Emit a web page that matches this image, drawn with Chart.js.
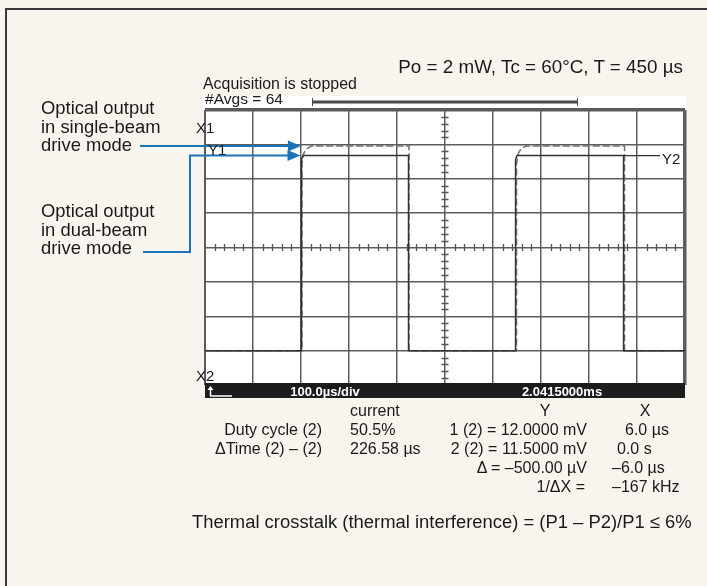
<!DOCTYPE html>
<html><head><meta charset="utf-8">
<script src="https://cdn.jsdelivr.net/npm/chart.js@4.4.0/dist/chart.umd.min.js"></script>
<style>
html,body{margin:0;padding:0;background:#f8f5ee;overflow:hidden;}
#wrap{position:relative;width:707px;height:586px;overflow:hidden;background:#f8f5ee;}
#frame{position:absolute;left:5px;top:8px;width:720px;height:600px;border-top:2px solid #3a3a3a;border-left:2px solid #3a3a3a;z-index:1;pointer-events:none;}
#edge{position:absolute;left:697px;top:20px;width:10px;height:566px;background:#f8f5ee;z-index:10;}
canvas{position:absolute;left:0;top:0;}
.t{position:absolute;white-space:nowrap;line-height:1;font-family:"Liberation Sans",Arial,sans-serif;color:#1a1a1a;z-index:2;}
</style></head><body>
<div id="wrap"><div id="frame"></div><canvas id="c" width="707" height="586"></canvas><div id="edge"></div></div>
<script>
// ---------- data (time in µs, level in mV) ----------
const trace1Time = [0, 202, 202, 206, 212, 222, 425, 425, 649, 649, 653, 659, 669, 874, 874, 1000];
const trace1mV   = [0, 0, 10.9, 11.5, 11.75, 11.9, 11.9, 0, 0, 10.9, 11.5, 11.75, 11.9, 11.9, 0, 0];
const trace2Time = [0, 201, 201, 204, 424, 424, 647, 647, 650, 872, 872, 1000];
const trace2mV   = [0, 0, 11.1, 11.35, 11.35, 0, 0, 11.1, 11.35, 11.35, 0, 0];
const cursorY2Time = [872, 948];
const cursorY2mV   = [11.35, 11.35];
const timeTicksUs = [0, 100, 200, 300, 400, 500, 600, 700, 800, 900, 1000];
const levelTicksmV = [-2, 0, 2, 4, 6, 8, 10, 12, 14];

const titleText = "Po = 2 mW, Tc = 60\u00B0C, T = 450 \u00B5s";
const statusLines = ["Acquisition is stopped", "#Avgs = 64"];
const sideLabel1 = ["Optical output", "in single-beam", "drive mode"];
const sideLabel2 = ["Optical output", "in dual-beam", "drive mode"];
const timebaseText = "100.0\u00B5s/div";
const delayText = "2.0415000ms";
const headerCurrent = "current", headerY = "Y", headerX = "X";
const measNames  = ["Duty cycle (2)", "\u0394Time (2) \u2013 (2)"];
const measValues = ["50.5%", "226.58 \u00B5s"];
const cursorYText = ["1 (2) = 12.0000 mV", "2 (2) = 11.5000  mV", "\u0394 = \u2013500.00 \u00B5V", "1/\u0394X ="];
const cursorXText = ["6.0  \u00B5s", "0.0  s", "\u20136.0  \u00B5s", "\u2013167 kHz"];
const footText = "Thermal crosstalk (thermal interference) = (P1 \u2013 P2)/P1 \u2264 6%";

const xy = (xs, ys) => xs.map((x, i) => ({x, y: ys[i]}));

// ---------- text helpers (HTML text) ----------
const wrap = document.getElementById('wrap');
const mctx = document.createElement('canvas').getContext('2d');
function fitSize(text, width, weight) {
  mctx.font = (weight || 'normal') + ' 100px "Liberation Sans", Arial, sans-serif';
  return 100 * width / mctx.measureText(text).width;
}
function label(text, x, y, o) {
  o = o || {};
  const d = document.createElement('div');
  d.className = 't';
  d.textContent = text;
  const size = o.fit ? fitSize(text, o.fit, o.weight) : (o.size || 16);
  d.style.fontSize = size + 'px';
  if (o.weight) d.style.fontWeight = o.weight;
  if (o.color) d.style.color = o.color;
  d.style.left = x + 'px';
  d.style.top = y + 'px';
  const tx = o.align === 'right' ? '-100%' : (o.align === 'center' ? '-50%' : '0');
  d.style.transform = 'translate(' + tx + ',-50%)';
  wrap.appendChild(d);
}

// ---------- decoration plugin ----------
const BLUE = '#1b74ba';
function arrowHead(ctx, x, y) {
  ctx.beginPath();
  ctx.moveTo(x, y);
  ctx.lineTo(x - 13, y - 5.5);
  ctx.lineTo(x - 13, y + 5.5);
  ctx.closePath();
  ctx.fill();
}
const scopeDecor = {
  id: 'scopeDecor',
  beforeDraw(chart) {
    const ctx = chart.ctx, a = chart.chartArea;
    ctx.save();
    ctx.fillStyle = '#ffffff';
    ctx.fillRect(a.left, a.top, a.right - a.left, a.bottom - a.top);
    ctx.fillRect(a.left - 2, a.top - 14, a.right - a.left + 3, 14);
    ctx.strokeStyle = '#4a4a4a';
    ctx.lineWidth = 3;
    ctx.beginPath(); ctx.moveTo(312, 102); ctx.lineTo(578, 102); ctx.stroke();
    ctx.lineWidth = 1;
    ctx.beginPath();
    ctx.moveTo(312.5, 98); ctx.lineTo(312.5, 106);
    ctx.moveTo(577.5, 98); ctx.lineTo(577.5, 106);
    ctx.stroke();
    ctx.restore();
  },
  beforeDatasetsDraw(chart) {
    const ctx = chart.ctx, xs = chart.scales.x, ys = chart.scales.y;
    const cy = ys.getPixelForValue(6), cx = xs.getPixelForValue(500);
    ctx.save();
    ctx.strokeStyle = '#555';
    ctx.lineWidth = 1.3;
    ctx.beginPath();
    for (let t = 0; t <= 1000; t += 20) {
      if (t % 100 === 0) continue;
      const px = Math.round(xs.getPixelForValue(t)) + 0.5;
      ctx.moveTo(px, cy - 3.5); ctx.lineTo(px, cy + 3.5);
    }
    for (let v = -2; v <= 14.001; v += 0.4) {
      if (Math.abs(v / 2 - Math.round(v / 2)) < 1e-6) continue;
      const py = Math.round(ys.getPixelForValue(v)) + 0.5;
      ctx.moveTo(cx - 3.5, py); ctx.lineTo(cx + 3.5, py);
    }
    ctx.stroke();
    ctx.restore();
  },
  afterDatasetsDraw(chart) {
    const ctx = chart.ctx, a = chart.chartArea, xs = chart.scales.x, ys = chart.scales.y;
    ctx.save();
    ctx.fillStyle = '#1c1c1c';
    ctx.fillRect(a.left, a.bottom - 2, a.right - a.left, 15);
    ctx.strokeStyle = '#fff';
    ctx.fillStyle = '#fff';
    ctx.lineWidth = 1.5;
    ctx.beginPath();
    ctx.moveTo(210.5, a.bottom + 11); ctx.lineTo(210.5, a.bottom + 3);
    ctx.moveTo(210, a.bottom + 11); ctx.lineTo(232, a.bottom + 11);
    ctx.stroke();
    ctx.beginPath();
    ctx.moveTo(210.5, a.bottom + 1); ctx.lineTo(207.5, a.bottom + 5); ctx.lineTo(213.5, a.bottom + 5);
    ctx.closePath(); ctx.fill();
    const tip1x = xs.getPixelForValue(trace1Time[1]) - 1;
    const tip1y = ys.getPixelForValue(trace1mV[5]);
    const tip2x = xs.getPixelForValue(trace2Time[1]) - 1;
    const tip2y = ys.getPixelForValue(trace2mV[3]);
    ctx.strokeStyle = BLUE;
    ctx.fillStyle = BLUE;
    ctx.lineWidth = 2;
    ctx.beginPath();
    ctx.moveTo(140, tip1y); ctx.lineTo(tip1x - 10, tip1y);
    ctx.moveTo(143, 252); ctx.lineTo(190, 252); ctx.lineTo(190, tip2y); ctx.lineTo(tip2x - 10, tip2y);
    ctx.stroke();
    arrowHead(ctx, tip1x, tip1y);
    arrowHead(ctx, tip2x, tip2y);
    ctx.restore();
  }
};

// ---------- chart ----------
const gridColor = '#5c5c5c';
new Chart(document.getElementById('c'), {
  type: 'line',
  data: {
    datasets: [
      { label: 'single-beam', order: 2, data: xy(trace1Time, trace1mV), borderColor: '#707070', borderWidth: 1.5, borderDash: [7, 3], pointRadius: 0, tension: 0, fill: false },
      { label: 'dual-beam', order: 1, data: xy(trace2Time, trace2mV), borderColor: '#333333', borderWidth: 1.5, pointRadius: 0, tension: 0, fill: false },
      { label: 'Y2 cursor', order: 0, data: xy(cursorY2Time, cursorY2mV), borderColor: '#333333', borderWidth: 1.2, pointRadius: 0, fill: false }
    ]
  },
  options: {
    responsive: false,
    animation: false,
    events: [],
    devicePixelRatio: 1,
    layout: { padding: { left: 205, right: 22, top: 110, bottom: 201 } },
    plugins: { legend: { display: false }, tooltip: { enabled: false }, title: { display: false } },
    scales: {
      x: {
        type: 'linear', min: timeTicksUs[0], max: timeTicksUs[timeTicksUs.length - 1],
        afterBuildTicks: s => { s.ticks = timeTicksUs.map(v => ({value: v})); },
        ticks: { display: false },
        border: { display: false },
        grid: { drawTicks: false, color: gridColor,
          lineWidth: c => (c.tick && c.tick.value === 1000) ? 3.5 : (c.tick && c.tick.value === 0 ? 2 : 1.5) }
      },
      y: {
        type: 'linear', min: levelTicksmV[0], max: levelTicksmV[levelTicksmV.length - 1],
        afterBuildTicks: s => { s.ticks = levelTicksmV.map(v => ({value: v})); },
        ticks: { display: false },
        border: { display: false },
        grid: { drawTicks: false, color: gridColor,
          lineWidth: c => (c.tick && c.tick.value === 14) ? 3.5 : 1.5 }
      }
    }
  },
  plugins: [scopeDecor]
});

// ---------- texts ----------
label(titleText, 683, 67, { fit: 286, align: 'right' });
label(statusLines[0], 203, 84, { fit: 154 });
label(statusLines[1], 205, 99, { fit: 78 });
sideLabel1.forEach((s, i) => label(s, 41, 108 + i * 18.5, { size: 18.4 }));
sideLabel2.forEach((s, i) => label(s, 41, 211 + i * 18.5, { size: 18.4 }));
label('X1', 196, 127, { size: 15 });
label('Y1', 208, 149, { size: 15 });
label('Y2', 662, 158, { size: 15 });
label('X2', 196, 375, { size: 15 });
label(timebaseText, 325, 391, { size: 13, weight: 'bold', color: '#ffffff', align: 'center' });
label(delayText, 562, 391, { size: 13, weight: 'bold', color: '#ffffff', align: 'center' });
label(headerCurrent, 350, 411, { size: 16 });
label(headerY, 545, 411, { size: 16, align: 'center' });
label(headerX, 645, 411, { size: 16, align: 'center' });
const rowY = [430, 449, 468, 487];
measNames.forEach((s, i) => label(s, 322, rowY[i], { size: 16, align: 'right' }));
measValues.forEach((s, i) => label(s, 350, rowY[i], { size: 16 }));
const yRight = [587, 587, 587, 585];
cursorYText.forEach((s, i) => label(s, yRight[i], rowY[i], { size: 16, align: 'right' }));
const xLeft = [625, 617, 612, 612];
cursorXText.forEach((s, i) => label(s, xLeft[i], rowY[i], { size: 16 }));
label(footText, 192, 522, { fit: 500 });
</script>
</body></html>
